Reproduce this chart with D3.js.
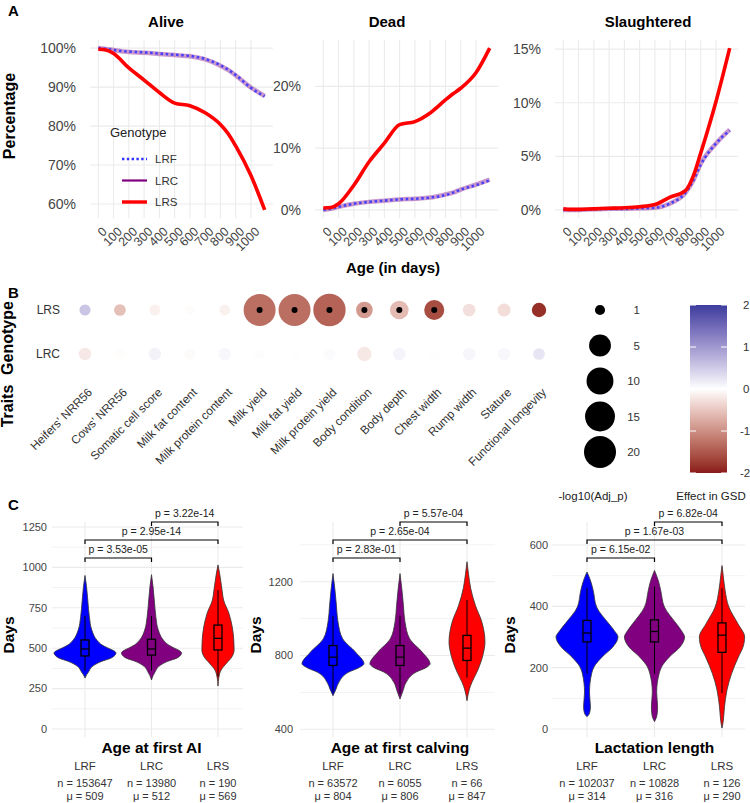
<!DOCTYPE html>
<html>
<head>
<meta charset="utf-8">
<script src="https://cdn.jsdelivr.net/npm/d3@7"></script>
<style>
  body { margin: 0; background: #fff; }
  svg { font-family: "Liberation Sans", Arial, sans-serif; }
</style>
</head>
<body>
<svg id="chart" width="750" height="803"></svg>
<script>
// ---------- Panel A data (share of animals by age) ----------
const ages = [0, 50, 100, 200, 300, 400, 500, 600, 700, 800, 850, 900, 1000, 1090];

const aliveLRF = [1.0, 0.998, 0.995, 0.991, 0.989, 0.986, 0.983, 0.980, 0.972, 0.956, 0.945, 0.931, 0.898, 0.876];
const aliveLRC = [1.0, 0.998, 0.995, 0.990, 0.988, 0.985, 0.982, 0.979, 0.971, 0.955, 0.944, 0.930, 0.899, 0.877];
const aliveLRS = [0.997, 0.995, 0.986, 0.949, 0.918, 0.886, 0.859, 0.852, 0.834, 0.804, 0.781, 0.749, 0.673, 0.585];

const deadLRF = [0.0, 0.002, 0.005, 0.010, 0.013, 0.015, 0.017, 0.018, 0.020, 0.024, 0.028, 0.033, 0.040, 0.048];
const deadLRC = [0.0, 0.002, 0.005, 0.010, 0.013, 0.015, 0.017, 0.018, 0.020, 0.025, 0.028, 0.033, 0.041, 0.049];
const deadLRS = [0.003, 0.004, 0.010, 0.040, 0.078, 0.108, 0.138, 0.143, 0.157, 0.178, 0.188, 0.197, 0.222, 0.262];

const slaughtLRF = [0, 0, 0, 0.0005, 0.001, 0.001, 0.0015, 0.002, 0.006, 0.016, 0.027, 0.042, 0.062, 0.074];
const slaughtLRC = [0, 0, 0, 0.0005, 0.001, 0.001, 0.0015, 0.002, 0.006, 0.016, 0.027, 0.043, 0.062, 0.075];
const slaughtLRS = [0.001, 0.0005, 0.0005, 0.001, 0.0015, 0.002, 0.003, 0.005, 0.012, 0.018, 0.031, 0.053, 0.101, 0.151];

const ageTicks = [0, 100, 200, 300, 400, 500, 600, 700, 800, 900, 1000];
const aliveTicks = [0.6, 0.7, 0.8, 0.9, 1.0];
const deadTicks = [0, 0.1, 0.2];
const slaughtTicks = [0, 0.05, 0.10, 0.15];

// ---------- Panel B data ----------
const traits = ["Heifers' NRR56", "Cows' NRR56", "Somatic cell score", "Milk fat content",
  "Milk protein content", "Milk yield", "Milk fat yield", "Milk protein yield", "Body condition",
  "Body depth", "Chest width", "Rump width", "Stature", "Functional longevity"];
const genotypesB = ["LRS", "LRC"];
const lrsLogP = [1.15, 1.25, 1.15, 1.0, 1.1, 20, 20, 21, 2.46, 3.2, 3.9, 1.43, 1.5, 1.8];
const lrsEffect = [0.55, -0.55, -0.12, -0.03, -0.12, -1.3, -1.3, -1.4, -0.9, -0.6, -1.6, -0.28, -0.3, -1.85];
const lrsSignif = [0, 0, 0, 0, 0, 1, 1, 1, 1, 1, 1, 0, 0, 0];
const lrcLogP = [1.38, 1.0, 1.38, 1.25, 1.4, 1.0, 1.0, 1.25, 1.8, 1.4, 1.0, 1.38, 1.38, 1.25];
const lrcEffect = [-0.2, -0.02, 0.12, -0.04, 0.07, 0.02, 0.01, 0.04, -0.2, 0.1, -0.01, 0.08, 0.07, 0.25];
const lrcSignif = [0, 0, 0, 0, 0, 0, 0, 0, 0, 0, 0, 0, 0, 0];
const sizeBreaks = [1, 5, 10, 15, 20];
const effectTicks = [2, 1, 0, -1, -2];

// ---------- Panel C data ----------
const groups = ["LRF", "LRC", "LRS"];
const pairs = [[0, 1], [0, 2], [1, 2]];

// violin profiles: [days, relative density]
const aiLRF = [[315, 0], [335, 0.05], [355, 0.12], [386, 0.23], [417, 0.52], [440, 0.85], [460, 0.98], [470, 1.0], [485, 0.92], [500, 0.75], [520, 0.55], [551, 0.38], [612, 0.22], [695, 0.14], [798, 0.09], [880, 0.05], [950, 0]];
const aiLRC = [[303, 0], [330, 0.05], [355, 0.12], [386, 0.23], [417, 0.5], [440, 0.83], [460, 0.95], [470, 0.97], [485, 0.9], [500, 0.74], [520, 0.55], [551, 0.38], [612, 0.22], [695, 0.14], [798, 0.09], [880, 0.05], [955, 0]];
const aiLRS = [[266, 0], [322, 0.03], [365, 0.1], [408, 0.28], [447, 0.45], [489, 0.52], [551, 0.51], [631, 0.46], [717, 0.35], [798, 0.18], [860, 0.13], [965, 0.05], [1015, 0]];
const aiBox = [[452, 495, 551, 360, 700], [457, 495, 555, 360, 700], [489, 561, 643, 322, 860]];
const aiN = [153647, 13980, 190];
const aiMean = [509, 512, 569];
const aiP = ["3.53e-05", "2.95e-14", "3.22e-14"];

const calvLRF = [[582, 0], [619, 0.1], [655, 0.19], [710, 0.51], [735, 0.85], [755, 1.0], [818, 0.73], [891, 0.31], [983, 0.16], [1072, 0.11], [1160, 0.06], [1244, 0]];
const calvLRC = [[564, 0], [610, 0.1], [655, 0.2], [710, 0.52], [735, 0.85], [755, 0.97], [818, 0.72], [891, 0.31], [983, 0.16], [1072, 0.11], [1160, 0.06], [1244, 0]];
const calvLRS = [[555, 0], [619, 0.08], [655, 0.16], [710, 0.32], [800, 0.51], [873, 0.58], [981, 0.48], [1072, 0.27], [1163, 0.12], [1240, 0.05], [1308, 0]];
const calvBox = [[746, 791, 854, 600, 1015], [746, 791, 854, 590, 1015], [773, 840, 909, 680, 1100]];
const calvN = [63572, 6055, 66];
const calvMean = [804, 806, 847];
const calvP = ["2.83e-01", "2.65e-04", "5.57e-04"];

const lactLRF = [[40, 0], [51, 0.08], [72, 0.11], [120, 0.08], [181, 0.15], [203, 0.23], [235, 0.49], [268, 0.84], [300, 1.0], [322, 0.87], [344, 0.7], [398, 0.31], [452, 0.2], [485, 0.11], [512, 0]];
const lactLRC = [[24, 0], [45, 0.08], [72, 0.1], [120, 0.07], [181, 0.15], [203, 0.23], [235, 0.48], [268, 0.83], [300, 0.97], [322, 0.86], [344, 0.7], [398, 0.32], [452, 0.2], [485, 0.12], [517, 0]];
const lactLRS = [[3, 0], [18, 0.03], [72, 0.08], [127, 0.16], [181, 0.31], [235, 0.53], [268, 0.68], [300, 0.73], [344, 0.51], [398, 0.22], [452, 0.1], [500, 0.04], [533, 0]];
const lactBox = [[284, 313, 354, 180, 460], [284, 318, 356, 180, 465], [250, 306, 346, 117, 460]];
const lactN = [102037, 10828, 126];
const lactMean = [314, 316, 290];
const lactP = ["6.15e-02", "1.67e-03", "6.82e-04"];

// ---------- setup ----------
const svg = d3.select('#chart');
const tickCol = '#444';
const gridCol = '#ebebeb';

function tag(label, x, y) {
  svg.append('text').attr('x', x).attr('y', y)
    .style('font-size', '15px').style('font-weight', 'bold').text(label);
}
tag('A', 8, 16);
tag('B', 8, 298);
tag('C', 8, 510);

// ---------- Panel A ----------
const panelTop = 40, panelBottom = 218;
const colA = { LRF: '#3333ff', LRC: '#800080', LRS: '#ff0000' };

function drawSurvival(cfg) {
  const x = d3.scaleLinear().domain([-54.5, 1144.5]).range([cfg.left, cfg.left + 183]);
  const lo = d3.min([cfg.lrf, cfg.lrc, cfg.lrs].flat());
  const hi = d3.max([cfg.lrf, cfg.lrc, cfg.lrs].flat());
  const pad = (hi - lo) * 0.05;
  const y = d3.scaleLinear().domain([lo - pad, hi + pad]).range([panelBottom, panelTop]);
  const g = svg.append('g');

  g.selectAll('.hg').data(cfg.yTicks).join('line')
    .attr('x1', cfg.left).attr('x2', cfg.left + 183)
    .attr('y1', d => y(d)).attr('y2', d => y(d))
    .attr('stroke', gridCol).attr('stroke-width', 1.1);
  g.selectAll('.vg').data(ageTicks).join('line')
    .attr('x1', d => x(d)).attr('x2', d => x(d))
    .attr('y1', panelTop).attr('y2', panelBottom)
    .attr('stroke', gridCol).attr('stroke-width', 1.1);

  g.selectAll('.yl').data(cfg.yTicks).join('text')
    .attr('x', cfg.left - 14).attr('y', d => y(d)).attr('dy', '0.35em')
    .attr('text-anchor', 'end').style('font-size', '14px').attr('fill', tickCol)
    .text(d3.format('.0%'));
  g.selectAll('.xl').data(ageTicks).join('text')
    .attr('transform', d => `translate(${x(d) + 3},${226}) rotate(-45)`)
    .attr('dy', '0.72em')
    .attr('text-anchor', 'end').style('font-size', '12.5px').attr('fill', tickCol)
    .text(d => d);

  g.append('text').attr('x', cfg.titleX).attr('y', 27).attr('text-anchor', 'middle')
    .style('font-size', '15px').style('font-weight', 'bold').text(cfg.title);

  const line = vals => d3.line()
    .x((d, i) => x(ages[i])).y(d => y(d))
    .curve(d3.curveMonotoneX)(vals);

  g.append('path').attr('d', line(cfg.lrc)).attr('fill', 'none')
    .attr('stroke', colA.LRC).attr('stroke-opacity', 0.4).attr('stroke-width', 4.5);
  g.append('path').attr('d', line(cfg.lrf)).attr('fill', 'none')
    .attr('stroke', colA.LRF).attr('stroke-opacity', 0.85).attr('stroke-width', 2.6)
    .attr('stroke-dasharray', '2.6,2.6');
  g.append('path').attr('d', line(cfg.lrs)).attr('fill', 'none')
    .attr('stroke', colA.LRS).attr('stroke-width', 3.6);
}

drawSurvival({ left: 90, title: 'Alive', titleX: 166, lrf: aliveLRF, lrc: aliveLRC, lrs: aliveLRS, yTicks: aliveTicks });
drawSurvival({ left: 315, title: 'Dead', titleX: 387, lrf: deadLRF, lrc: deadLRC, lrs: deadLRS, yTicks: deadTicks });
drawSurvival({ left: 555, title: 'Slaughtered', titleX: 648, lrf: slaughtLRF, lrc: slaughtLRC, lrs: slaughtLRS, yTicks: slaughtTicks });

svg.append('text').attr('transform', 'translate(15,116) rotate(-90)').attr('text-anchor', 'middle')
  .style('font-size', '16px').style('font-weight', 'bold').text('Percentage');
svg.append('text').attr('x', 393).attr('y', 273).attr('text-anchor', 'middle')
  .style('font-size', '15px').style('font-weight', 'bold').text('Age (in days)');

// legend A
const legA = svg.append('g');
legA.append('text').attr('x', 110).attr('y', 137).style('font-size', '13px').attr('fill', '#222').text('Genotype');
const legY = d3.scalePoint().domain(groups).range([159, 202]);
groups.forEach(gname => {
  const ln = legA.append('line').attr('x1', 122).attr('x2', 147)
    .attr('y1', legY(gname)).attr('y2', legY(gname)).attr('stroke', colA[gname]);
  if (gname === 'LRF') ln.attr('stroke-width', 2.4).attr('stroke-dasharray', '2.4,2.4');
  else if (gname === 'LRC') ln.attr('stroke-width', 2.2);
  else ln.attr('stroke-width', 3.4);
  legA.append('text').attr('x', 155).attr('y', legY(gname)).attr('dy', '0.35em')
    .style('font-size', '11.5px').attr('fill', '#333').text(gname);
});

// ---------- Panel B ----------
const bx = d3.scalePoint().domain(traits).range([85, 539]);
const by = d3.scalePoint().domain(genotypesB).range([310, 354]);
const rScale = d3.scaleLog().domain([0.5, 20]).range([2.5, 16]);
const effColor = d3.scaleLinear().domain([-2, 0, 2])
  .range(['#8b1a1a', '#ffffff', '#3b3d9e']).interpolate(d3.interpolateLab);

const bubbles = [];
traits.forEach((t, i) => {
  bubbles.push({ trait: t, geno: 'LRS', p: lrsLogP[i], e: lrsEffect[i], s: lrsSignif[i] });
  bubbles.push({ trait: t, geno: 'LRC', p: lrcLogP[i], e: lrcEffect[i], s: lrcSignif[i] });
});
const gB = svg.append('g');
gB.selectAll('circle.b').data(bubbles).join('circle')
  .attr('cx', d => bx(d.trait)).attr('cy', d => by(d.geno))
  .attr('r', d => rScale(d.p)).attr('fill', d => effColor(d.e));
gB.selectAll('circle.s').data(bubbles.filter(d => d.s)).join('circle')
  .attr('cx', d => bx(d.trait)).attr('cy', d => by(d.geno)).attr('r', 3).attr('fill', '#000');

gB.selectAll('text.row').data(genotypesB).join('text')
  .attr('x', 60).attr('y', d => by(d)).attr('dy', '0.35em').attr('text-anchor', 'end')
  .style('font-size', '12px').attr('fill', '#333').text(d => d);
gB.selectAll('text.tr').data(traits).join('text')
  .attr('transform', d => `translate(${bx(d) + 2},${387}) rotate(-45)`)
  .attr('dy', '0.72em').attr('text-anchor', 'end')
  .style('font-size', '11.8px').attr('fill', '#333').text(d => d);

svg.append('text').attr('transform', 'translate(13,338) rotate(-90)').attr('text-anchor', 'middle')
  .style('font-size', '16px').style('font-weight', 'bold').text('Genotype');
svg.append('text').attr('transform', 'translate(13,406) rotate(-90)').attr('text-anchor', 'middle')
  .style('font-size', '16px').style('font-weight', 'bold').text('Traits');

// size legend
const sy = d3.scalePoint().domain(sizeBreaks).range([310, 452]);
gB.selectAll('circle.leg').data(sizeBreaks).join('circle')
  .attr('cx', 600).attr('cy', d => sy(d)).attr('r', d => rScale(d)).attr('fill', '#000');
gB.selectAll('text.leg').data(sizeBreaks).join('text')
  .attr('x', 640).attr('y', d => sy(d)).attr('dy', '0.35em').attr('text-anchor', 'end')
  .style('font-size', '11.5px').attr('fill', '#333').text(d => d);
svg.append('text').attr('x', 593).attr('y', 500).attr('text-anchor', 'middle')
  .style('font-size', '11.5px').attr('fill', '#222').text('-log10(Adj_p)');

// colour bar
const cbY = d3.scaleLinear().domain([2, -2]).range([305, 473]);
const grad = svg.append('defs').append('linearGradient').attr('id', 'cb')
  .attr('x1', 0).attr('x2', 0).attr('y1', 0).attr('y2', 1);
d3.range(0, 1.0001, 0.05).forEach(f => {
  grad.append('stop').attr('offset', f).attr('stop-color', effColor(2 - 4 * f));
});
svg.append('rect').attr('x', 690).attr('y', cbY(2)).attr('width', 37)
  .attr('height', cbY(-2) - cbY(2)).attr('fill', 'url(#cb)');
effectTicks.forEach(v => {
  svg.append('line').attr('x1', 690).attr('x2', 696).attr('y1', cbY(v)).attr('y2', cbY(v))
    .attr('stroke', '#fff').attr('stroke-width', 1);
  svg.append('line').attr('x1', 721).attr('x2', 727).attr('y1', cbY(v)).attr('y2', cbY(v))
    .attr('stroke', '#fff').attr('stroke-width', 1);
  svg.append('text').attr('x', v < 0 ? 740 : 743).attr('y', cbY(v)).attr('dy', '0.35em')
    .style('font-size', '11.5px').attr('fill', '#333').text(v);
});
svg.append('text').attr('x', 711).attr('y', 500).attr('text-anchor', 'middle')
  .style('font-size', '11.5px').attr('fill', '#222').text('Effect in GSD');

// ---------- Panel C ----------
const fillC = ['#0000ff', '#800080', '#ff0000'];
const bracketY = [558, 540, 522];

function drawViolins(cfg) {
  const g = svg.append('g');
  const y = d3.scaleLinear().domain(cfg.domain).range(cfg.range);
  const x = d3.scalePoint().domain(groups).range(cfg.xs);
  const w = d3.scaleLinear().domain([0, 1]).range([0, 31]);

  g.selectAll('.mg').data(cfg.minor).join('line')
    .attr('x1', cfg.grid[0]).attr('x2', cfg.grid[1])
    .attr('y1', d => y(d)).attr('y2', d => y(d)).attr('stroke', '#f2f2f2').attr('stroke-width', 1);
  g.selectAll('.hg').data(cfg.ticks).join('line')
    .attr('x1', cfg.grid[0]).attr('x2', cfg.grid[1])
    .attr('y1', d => y(d)).attr('y2', d => y(d)).attr('stroke', gridCol).attr('stroke-width', 1.1);
  g.selectAll('.vg').data(groups).join('line')
    .attr('x1', d => x(d)).attr('x2', d => x(d))
    .attr('y1', 522).attr('y2', 737).attr('stroke', gridCol).attr('stroke-width', 1.1);

  g.selectAll('.yl').data(cfg.ticks).join('text')
    .attr('x', cfg.labelX).attr('y', d => y(d)).attr('dy', '0.35em').attr('text-anchor', 'end')
    .style('font-size', '11px').attr('fill', tickCol).text(d => d);

  cfg.violins.forEach((prof, i) => {
    const cx = x(groups[i]);
    const area = d3.area().curve(d3.curveMonotoneY)
      .y(d => y(d[0])).x0(d => cx - w(d[1])).x1(d => cx + w(d[1]));
    g.append('path').attr('d', area(prof)).attr('fill', fillC[i])
      .attr('stroke', '#333').attr('stroke-width', 0.8);
    const b = cfg.box[i];
    g.append('line').attr('x1', cx).attr('x2', cx).attr('y1', y(b[3])).attr('y2', y(b[0]))
      .attr('stroke', '#000').attr('stroke-width', 1);
    g.append('line').attr('x1', cx).attr('x2', cx).attr('y1', y(b[2])).attr('y2', y(b[4]))
      .attr('stroke', '#000').attr('stroke-width', 1);
    g.append('rect').attr('x', cx - 4).attr('width', 8)
      .attr('y', y(b[2])).attr('height', y(b[0]) - y(b[2]))
      .attr('fill', 'none').attr('stroke', '#000').attr('stroke-width', 1.3);
    g.append('line').attr('x1', cx - 4).attr('x2', cx + 4).attr('y1', y(b[1])).attr('y2', y(b[1]))
      .attr('stroke', '#000').attr('stroke-width', 1.3);

    g.append('text').attr('x', cx).attr('y', 770).attr('text-anchor', 'middle')
      .style('font-size', '11.5px').attr('fill', '#333').text(groups[i]);
    g.append('text').attr('x', cx).attr('y', 787).attr('text-anchor', 'middle')
      .style('font-size', '11px').attr('fill', '#333').text('n = ' + cfg.n[i]);
    g.append('text').attr('x', cx).attr('y', 800).attr('text-anchor', 'middle')
      .style('font-size', '11px').attr('fill', '#333').text('\u03bc = ' + cfg.mean[i]);
  });

  pairs.forEach((pr, k) => {
    const x1 = x(groups[pr[0]]), x2 = x(groups[pr[1]]), yy = bracketY[k];
    g.append('path').attr('d', `M${x1},${yy + 4}V${yy}H${x2}V${yy + 4}`)
      .attr('fill', 'none').attr('stroke', '#000').attr('stroke-width', 1.2);
    g.append('text').attr('x', (x1 + x2) / 2).attr('y', yy - 5).attr('text-anchor', 'middle')
      .style('font-size', '10.5px').attr('fill', '#222').text('p = ' + cfg.p[k]);
  });

  g.append('text').attr('x', (cfg.xs[0] + cfg.xs[1]) / 2).attr('y', 753).attr('text-anchor', 'middle')
    .style('font-size', '15.5px').style('font-weight', 'bold').text(cfg.title);
  g.append('text').attr('transform', `translate(${cfg.daysX},635) rotate(-90)`).attr('text-anchor', 'middle')
    .style('font-size', '15.5px').style('font-weight', 'bold').text('Days');
}

drawViolins({
  title: 'Age at first AI', domain: [0, 1250], range: [729, 527], xs: [85, 218], grid: [52, 243],
  ticks: [0, 250, 500, 750, 1000, 1250], minor: [125, 375, 625, 875, 1125],
  labelX: 47, daysX: 14, violins: [aiLRF, aiLRC, aiLRS], box: aiBox, n: aiN, mean: aiMean, p: aiP
});
drawViolins({
  title: 'Age at first calving', domain: [400, 1200], range: [729.3, 581.7], xs: [333, 467], grid: [300, 495],
  ticks: [400, 800, 1200], minor: [600, 1000, 1400],
  labelX: 293, daysX: 261, violins: [calvLRF, calvLRC, calvLRS], box: calvBox, n: calvN, mean: calvMean, p: calvP
});
drawViolins({
  title: 'Lactation length', domain: [0, 600], range: [729, 545], xs: [587, 722], grid: [552, 745],
  ticks: [0, 200, 400, 600], minor: [100, 300, 500],
  labelX: 548, daysX: 515, violins: [lactLRF, lactLRC, lactLRS], box: lactBox, n: lactN, mean: lactMean, p: lactP
});
</script>
</body>
</html>
